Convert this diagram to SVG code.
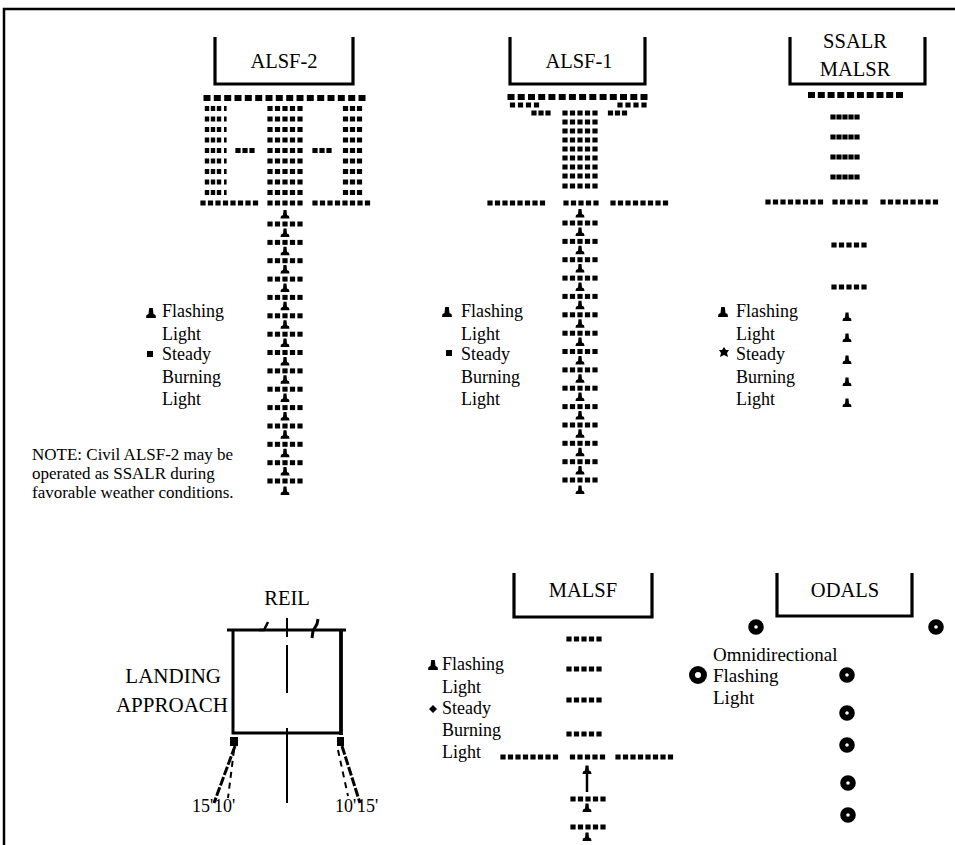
<svg xmlns="http://www.w3.org/2000/svg" width="955" height="845" viewBox="0 0 955 845">
<style>
.lbl{font-family:"Liberation Serif","Times New Roman",serif;font-size:20.5px;fill:#000;text-anchor:middle}
.big{font-family:"Liberation Serif","Times New Roman",serif;font-size:21px;fill:#000;text-anchor:end}
.leg{font-family:"Liberation Serif","Times New Roman",serif;font-size:18px;fill:#000}
.od{font-family:"Liberation Serif","Times New Roman",serif;font-size:19px;fill:#000}
.note{font-family:"Liberation Serif","Times New Roman",serif;font-size:17px;fill:#000}
.dist{font-family:"Liberation Serif","Times New Roman",serif;font-size:18px;fill:#000}
.br{fill:none;stroke:#000;stroke-width:3.2}
.ln{fill:none;stroke:#000}
.ring{fill:none;stroke:#000;stroke-width:6}
</style>
<defs>
<rect id="sq" x="-3.5" y="-3" width="7" height="6"/>
<rect id="d" x="-2.6" y="-2.5" width="5.2" height="5"/>
<path id="fl" d="M-4.5,4 L4.5,4 L4,1.5 L2,0.5 L1.5,-4.5 L-1.5,-4.5 L-2,0.5 L-4,1.5 Z"/>
<path id="flL" d="M-5,5 L5,5 L4.5,2 L2.5,1 L1.8,-5 L-1.8,-5 L-2.5,1 L-4.5,2 Z"/>
<g id="c5"><use href="#d" x="-15"/><use href="#d" x="-7.5"/><use href="#d"/><use href="#d" x="7.5"/><use href="#d" x="15"/></g>
<g id="c5s"><use href="#d" x="-12"/><use href="#d" x="-6"/><use href="#d"/><use href="#d" x="6"/><use href="#d" x="12"/></g>
<g id="g3"><use href="#d" x="-7"/><use href="#d"/><use href="#d" x="7"/></g>
<g id="x4"><use href="#d"/><use href="#d" x="8"/><use href="#d" x="16"/><use href="#d" x="24"/></g>
<g id="x8"><use href="#d"/><use href="#d" x="7.5"/><use href="#d" x="15"/><use href="#d" x="22.5"/><use href="#d" x="30"/><use href="#d" x="37.5"/><use href="#d" x="45"/><use href="#d" x="52.5"/></g>
<g id="a2l"><rect x="-2.2" y="-2.5" width="4.4" height="5"/><rect x="3.8" y="-2.5" width="4.4" height="5"/><rect x="9.8" y="-2.5" width="4.4" height="5"/><rect x="17" y="-2.5" width="2.6" height="5"/></g>
<g id="col">
<use href="#fl" y="214.5"/><use href="#c5" y="224"/>
<use href="#fl" y="232.9"/><use href="#c5" y="242.4"/>
<use href="#fl" y="251.2"/><use href="#c5" y="260.7"/>
<use href="#fl" y="269.6"/><use href="#c5" y="279.1"/>
<use href="#fl" y="287.9"/><use href="#c5" y="297.4"/>
<use href="#fl" y="306.3"/><use href="#c5" y="315.8"/>
<use href="#fl" y="324.7"/><use href="#c5" y="334.2"/>
<use href="#fl" y="343"/><use href="#c5" y="352.5"/>
<use href="#fl" y="361.4"/><use href="#c5" y="370.9"/>
<use href="#fl" y="379.7"/><use href="#c5" y="389.2"/>
<use href="#fl" y="398.1"/><use href="#c5" y="407.6"/>
<use href="#fl" y="416.5"/><use href="#c5" y="426"/>
<use href="#fl" y="434.8"/><use href="#c5" y="444.3"/>
<use href="#fl" y="453.2"/><use href="#c5" y="462.7"/>
<use href="#fl" y="471.5"/><use href="#c5" y="481"/>
<use href="#fl" y="491"/>
</g>
</defs>
<rect width="955" height="845" fill="#fff"/>
<g id="frame"><path class="ln" stroke-width="2.5" d="M4,845 V9 H955"/></g>

<g id="alsf2">
<path class="br" d="M215,37 V84 H353 V37"/>
<text class="lbl" x="284" y="68">ALSF-2</text>
<g>
<use href="#sq" x="207" y="98"/><use href="#sq" x="217.3" y="98"/><use href="#sq" x="227.7" y="98"/><use href="#sq" x="238" y="98"/><use href="#sq" x="248.3" y="98"/><use href="#sq" x="258.7" y="98"/><use href="#sq" x="269" y="98"/><use href="#sq" x="279.3" y="98"/><use href="#sq" x="289.7" y="98"/><use href="#sq" x="300" y="98"/><use href="#sq" x="310.3" y="98"/><use href="#sq" x="320.7" y="98"/><use href="#sq" x="331" y="98"/><use href="#sq" x="341.3" y="98"/><use href="#sq" x="351.7" y="98"/><use href="#sq" x="362" y="98"/>
</g>
<g>
<use href="#a2l" x="207" y="108.5"/><use href="#c5" x="285" y="108.5"/><use href="#g3" x="352.5" y="108.5"/>
<use href="#a2l" x="207" y="119"/><use href="#c5" x="285" y="119"/><use href="#g3" x="352.5" y="119"/>
<use href="#a2l" x="207" y="129.5"/><use href="#c5" x="285" y="129.5"/><use href="#g3" x="352.5" y="129.5"/>
<use href="#a2l" x="207" y="140"/><use href="#c5" x="285" y="140"/><use href="#g3" x="352.5" y="140"/>
<use href="#a2l" x="207" y="150.5"/><use href="#c5" x="285" y="150.5"/><use href="#g3" x="352.5" y="150.5"/>
<use href="#g3" x="245" y="150.5"/><use href="#g3" x="322" y="150.5"/>
<use href="#a2l" x="207" y="161"/><use href="#c5" x="285" y="161"/><use href="#g3" x="352.5" y="161"/>
<use href="#a2l" x="207" y="171.5"/><use href="#c5" x="285" y="171.5"/><use href="#g3" x="352.5" y="171.5"/>
<use href="#a2l" x="207" y="182"/><use href="#c5" x="285" y="182"/><use href="#g3" x="352.5" y="182"/>
<use href="#a2l" x="207" y="192.5"/><use href="#c5" x="285" y="192.5"/><use href="#g3" x="352.5" y="192.5"/>
<use href="#x8" x="203" y="203"/><use href="#c5" x="285" y="203"/><use href="#x8" x="315" y="203"/>
</g>
<use href="#col" x="285" y="0"/>
<g id="alsf2-legend">
<use href="#flL" x="151" y="313"/>
<text class="leg" x="162" y="317">Flashing</text>
<text class="leg" x="162" y="340">Light</text>
<rect x="147" y="351" width="6" height="6"/>
<text class="leg" x="162" y="360">Steady</text>
<text class="leg" x="162" y="383">Burning</text>
<text class="leg" x="162" y="405">Light</text>
</g>
</g>

<g id="note">
<text class="note" x="32" y="460">NOTE: Civil ALSF-2 may be</text>
<text class="note" x="32" y="479">operated as SSALR during</text>
<text class="note" x="32" y="498">favorable weather conditions.</text>
</g>

<g id="alsf1">
<path class="br" d="M510,37 V84 H645 V37"/>
<text class="lbl" x="579" y="68">ALSF-1</text>
<g>
<use href="#sq" x="511" y="97"/><use href="#sq" x="521.2" y="97"/><use href="#sq" x="531.5" y="97"/><use href="#sq" x="541.7" y="97"/><use href="#sq" x="551.9" y="97"/><use href="#sq" x="562.2" y="97"/><use href="#sq" x="572.4" y="97"/><use href="#sq" x="582.6" y="97"/><use href="#sq" x="592.8" y="97"/><use href="#sq" x="603.1" y="97"/><use href="#sq" x="613.3" y="97"/><use href="#sq" x="623.5" y="97"/><use href="#sq" x="633.8" y="97"/><use href="#sq" x="644" y="97"/>
<use href="#x4" x="512.5" y="105"/><use href="#x4" x="620" y="105"/>
<use href="#g3" x="541" y="113"/><use href="#c5" x="580" y="113"/><use href="#g3" x="617.5" y="113"/>
<use href="#c5" x="580" y="122"/><use href="#c5" x="580" y="131"/><use href="#c5" x="580" y="140"/><use href="#c5" x="580" y="149"/><use href="#c5" x="580" y="158"/><use href="#c5" x="580" y="167"/><use href="#c5" x="580" y="176"/><use href="#c5" x="580" y="186"/>
<use href="#x8" x="490" y="203"/><use href="#c5" x="581" y="203"/><use href="#x8" x="613" y="203"/>
</g>
<use href="#col" x="580" y="-1"/>
<g id="alsf1-legend">
<use href="#flL" x="447" y="312"/>
<text class="leg" x="461" y="317">Flashing</text>
<text class="leg" x="461" y="340">Light</text>
<rect x="446" y="350" width="6" height="6"/>
<text class="leg" x="461" y="360">Steady</text>
<text class="leg" x="461" y="383">Burning</text>
<text class="leg" x="461" y="405">Light</text>
</g>
</g>

<g id="ssalr">
<path class="br" d="M790,37 V84 H925 V37"/>
<text class="lbl" x="855" y="48">SSALR</text>
<text class="lbl" x="855" y="76">MALSR</text>
<g>
<use href="#sq" x="811.5" y="95"/><use href="#sq" x="821.3" y="95"/><use href="#sq" x="831.1" y="95"/><use href="#sq" x="840.8" y="95"/><use href="#sq" x="850.6" y="95"/><use href="#sq" x="860.4" y="95"/><use href="#sq" x="870.2" y="95"/><use href="#sq" x="880" y="95"/><use href="#sq" x="889.7" y="95"/><use href="#sq" x="899.5" y="95"/>
<use href="#c5s" x="845" y="117"/><use href="#c5s" x="845" y="137"/><use href="#c5s" x="845" y="157"/><use href="#c5s" x="845" y="177"/>
<use href="#x8" x="768" y="202"/><use href="#c5" x="850" y="202"/><use href="#x8" x="883" y="202"/>
<use href="#c5" x="849" y="245"/><use href="#c5" x="849" y="287"/>
<use href="#fl" x="847" y="317"/><use href="#fl" x="847" y="338"/><use href="#fl" x="847" y="360"/><use href="#fl" x="847" y="382"/><use href="#fl" x="847" y="403"/>
</g>
<g id="ssalr-legend">
<use href="#flL" x="723" y="312"/>
<text class="leg" x="736" y="317">Flashing</text>
<text class="leg" x="736" y="340">Light</text>
<path d="M724,347 L726,350 L729,350 L727,353 L728,357 L724,355 L720,357 L721,353 L719,350 L722,350 Z"/>
<text class="leg" x="736" y="360">Steady</text>
<text class="leg" x="736" y="383">Burning</text>
<text class="leg" x="736" y="405">Light</text>
</g>
</g>

<g id="reil">
<text class="lbl" x="287" y="605">REIL</text>
<path class="ln" stroke-width="3" d="M227,630 H346"/>
<path class="ln" stroke-width="3" d="M233,630 V733 H341"/>
<path class="ln" stroke-width="3.8" d="M341,630 V735"/>
<path class="ln" stroke-width="2" d="M287,618 V637 M287,645 V693 M287,728 V803"/>
<path class="ln" stroke-width="2.5" d="M259,630 L264,630 L268,622"/>
<path class="ln" stroke-width="3" d="M312,638 L313,631 L317,624 L318,619"/>
<rect x="230" y="737" width="8" height="9"/>
<rect x="337" y="737" width="7" height="9"/>
<path class="ln" stroke-width="3" stroke-dasharray="9 2" d="M235,746 L214,803"/>
<path class="ln" stroke-width="2" stroke-dasharray="6 5" d="M234,750 L228,798"/>
<path class="ln" stroke-width="3" stroke-dasharray="9 2" d="M342,746 L360,803"/>
<path class="ln" stroke-width="2" stroke-dasharray="6 5" d="M338,750 L348,796"/>
<text class="dist" y="812"><tspan x="192">15'</tspan><tspan x="214">10'</tspan></text>
<text class="dist" y="812"><tspan x="335">10'</tspan><tspan x="357">15'</tspan></text>
<text class="big" x="221" y="683">LANDING</text>
<text class="big" x="228" y="712">APPROACH</text>
</g>

<g id="malsf">
<path class="br" d="M514,573 V617 H652 V573"/>
<text class="lbl" x="583" y="597">MALSF</text>
<g>
<use href="#c5" x="584" y="639"/><use href="#c5" x="584" y="669"/><use href="#c5" x="584" y="700"/><use href="#c5" x="584" y="734"/>
<use href="#x8" x="503" y="757"/><use href="#c5" x="587.5" y="757"/><use href="#x8" x="618" y="757"/>
<use href="#fl" x="587" y="770"/>
<path class="ln" stroke-width="2.5" d="M587,772 V792"/>
<use href="#c5" x="588" y="799"/><use href="#fl" x="587" y="808"/>
<use href="#c5" x="588" y="827"/><use href="#fl" x="587" y="837"/>
</g>
<g id="malsf-legend">
<use href="#flL" x="433" y="665"/>
<text class="leg" x="442" y="670">Flashing</text>
<text class="leg" x="442" y="692.5">Light</text>
<path d="M433,705 L437,709 L433,713 L429,709 Z"/>
<text class="leg" x="442" y="714">Steady</text>
<text class="leg" x="442" y="736">Burning</text>
<text class="leg" x="442" y="758">Light</text>
</g>
</g>

<g id="odals">
<path class="br" d="M777,573 V616 H912 V573"/>
<text class="lbl" x="845" y="597">ODALS</text>
<circle class="ring" cx="756" cy="627" r="4.8"/>
<circle class="ring" cx="936" cy="627" r="4.8"/>
<circle class="ring" cx="847" cy="675" r="4.8"/>
<circle class="ring" cx="847" cy="713" r="4.8"/>
<circle class="ring" cx="847" cy="745" r="4.8"/>
<circle class="ring" cx="848" cy="783" r="4.8"/>
<circle class="ring" cx="848" cy="815" r="4.8"/>
<circle class="ring" cx="698" cy="675" r="6" stroke-width="7"/>
<text class="od" x="713" y="661">Omnidirectional</text>
<text class="od" x="713" y="682">Flashing</text>
<text class="od" x="713" y="704">Light</text>
</g>
</svg>
